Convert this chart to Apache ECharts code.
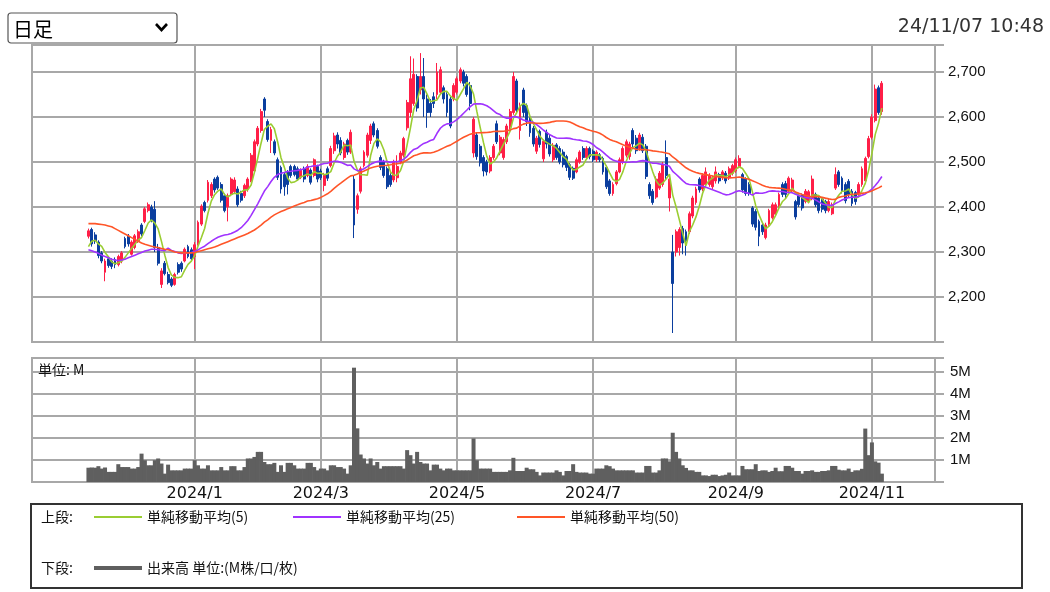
<!DOCTYPE html>
<html><head><meta charset="utf-8">
<script src="https://cdn.jsdelivr.net/npm/echarts@6/dist/echarts.min.js"></script>
<style>html,body{margin:0;padding:0;background:#fff;}#c{width:1050px;height:592px;}</style>
</head><body><div id="c"></div>
<script>
// trading days per month shown on the axis
const monthDays = {
 '2023/11':[15,16,17,20,21,22,24,27,28,29,30],
 '2023/12':[1,4,5,6,7,8,11,12,13,14,15,18,19,20,21,22,25,26,27,28,29],
 '2024/1':[4,5,9,10,11,12,15,16,17,18,19,22,23,24,25,26,29,30,31],
 '2024/2':[1,2,5,6,7,8,9,13,14,15,16,19,20,21,22,26,27,28,29],
 '2024/3':[1,4,5,6,7,8,11,12,13,14,15,18,19,21,22,25,26,27,28,29],
 '2024/4':[1,2,3,4,5,8,9,10,11,12,15,16,17,18,19,22,23,24,25,26,30],
 '2024/5':[1,2,7,8,9,10,13,14,15,16,17,20,21,22,23,24,27,28,29,30,31],
 '2024/6':[3,4,5,6,7,10,11,12,13,14,17,18,19,20,21,24,25,26,27,28],
 '2024/7':[1,2,3,4,5,8,9,10,11,12,16,17,18,19,22,23,24,25,26,29,30,31],
 '2024/8':[1,2,5,6,7,8,9,13,14,15,16,19,20,21,22,23,26,27,28,29,30],
 '2024/9':[2,3,4,5,6,9,10,11,12,13,17,18,19,20,24,25,26,27,30],
 '2024/10':[1,2,3,4,7,8,9,10,11,15,16,17,18,21,22,23,24,25,28,29,30,31],
 '2024/11':[1,5,6,7]
};
const labelMonths = ['2024/1','2024/3','2024/5','2024/7','2024/9','2024/11'];
const priceTicks = [2200,2300,2400,2500,2600,2700];
const volumeTicks = [1,2,3,4,5];

// [open, close, low, high]
const ohlc = [
[2335,2347,2330,2352],[2350,2318,2312,2354],[2338,2325,2318,2344],[2322,2292,2286,2326],[2298,2280,2275,2302],
[2255,2280,2235,2285],[2285,2270,2265,2290],[2280,2268,2262,2286],[2283,2272,2264,2288],[2272,2290,2268,2294],
[2280,2298,2275,2302],[2330,2312,2308,2334],[2335,2318,2312,2340],[2295,2322,2292,2326],[2310,2336,2306,2340],
[2325,2345,2320,2350],[2360,2340,2335,2364],[2368,2396,2364,2400],[2392,2405,2388,2410],[2400,2370,2366,2405],
[2395,2310,2300,2413],[2310,2275,2270,2318],[2228,2258,2220,2264],[2275,2252,2248,2280],[2250,2232,2228,2256],
[2240,2226,2222,2244],[2228,2250,2225,2254],[2272,2255,2250,2277],[2275,2262,2256,2279],[2280,2306,2277,2310],
[2312,2290,2286,2316],[2305,2285,2280,2310],[2290,2316,2262,2322],[2318,2366,2314,2370],[2362,2402,2358,2406],
[2410,2392,2388,2414],[2415,2455,2410,2460],[2425,2450,2420,2455],[2462,2438,2432,2466],[2466,2442,2438,2470],
[2450,2415,2410,2455],[2425,2392,2388,2430],[2400,2425,2368,2430],[2428,2462,2424,2466],[2434,2460,2430,2466],
[2440,2405,2400,2446],[2430,2415,2410,2436],[2425,2448,2420,2452],[2440,2462,2434,2466],[2458,2515,2455,2520],
[2480,2545,2476,2550],[2540,2575,2535,2580],[2570,2612,2565,2618],[2640,2615,2600,2644],[2590,2550,2545,2595],
[2548,2572,2520,2578],[2545,2520,2515,2550],[2505,2466,2460,2510],[2488,2440,2430,2492],[2472,2445,2425,2476],
[2478,2450,2428,2482],[2490,2470,2465,2494],[2490,2472,2468,2494],[2485,2462,2458,2490],[2466,2482,2462,2486],
[2485,2462,2455,2490],[2470,2490,2466,2495],[2482,2455,2450,2486],[2470,2505,2466,2508],[2490,2462,2455,2494],
[2480,2465,2460,2485],[2448,2472,2435,2476],[2485,2464,2458,2490],[2492,2530,2488,2536],[2525,2558,2518,2565],
[2560,2540,2530,2566],[2548,2520,2515,2555],[2510,2540,2505,2545],[2548,2522,2516,2552],[2522,2566,2518,2572],
[2462,2360,2331,2470],[2395,2425,2385,2430],[2435,2485,2430,2490],[2492,2522,2488,2526],[2515,2560,2510,2565],
[2548,2580,2540,2585],[2585,2560,2555,2590],[2570,2535,2530,2575],[2510,2488,2482,2515],[2500,2470,2465,2505],
[2485,2445,2440,2490],[2470,2450,2445,2475],[2460,2500,2455,2505],[2465,2490,2455,2515],[2500,2520,2495,2525],
[2515,2552,2510,2556],[2576,2632,2570,2638],[2610,2685,2600,2735],[2630,2695,2625,2730],[2690,2620,2612,2695],
[2660,2690,2650,2742],[2690,2640,2600,2731],[2640,2610,2576,2650],[2630,2610,2600,2640],[2645,2630,2620,2655],
[2650,2700,2640,2720],[2655,2705,2650,2712],[2665,2640,2630,2670],[2650,2610,2600,2655],[2640,2580,2575,2645],
[2640,2670,2635,2675],[2655,2685,2650,2690],[2680,2705,2675,2710],[2700,2675,2668,2705],[2690,2650,2645,2695],
[2670,2630,2615,2678],[2520,2595,2510,2600],[2560,2512,2505,2565],[2535,2498,2490,2540],[2510,2480,2468,2515],
[2500,2478,2470,2505],[2480,2510,2475,2515],[2510,2535,2505,2540],[2585,2545,2540,2592],[2520,2555,2515,2560],
[2510,2550,2505,2555],[2545,2580,2540,2585],[2578,2612,2572,2618],[2610,2690,2605,2700],[2680,2615,2610,2685],
[2570,2625,2550,2632],[2660,2610,2600,2665],[2625,2590,2580,2630],[2600,2565,2556,2605],[2575,2540,2534,2580],
[2524,2553,2518,2558],[2568,2539,2532,2572],[2507,2546,2500,2550],[2566,2540,2530,2572],[2553,2518,2512,2560],
[2505,2537,2500,2542],[2538,2510,2505,2542],[2530,2500,2495,2535],[2522,2494,2488,2528],[2512,2488,2480,2516],
[2494,2466,2460,2498],[2486,2464,2460,2490],[2478,2505,2475,2510],[2500,2522,2496,2526],[2530,2510,2505,2535],
[2510,2530,2505,2535],[2530,2512,2506,2534],[2524,2505,2500,2528],[2505,2522,2500,2526],[2516,2505,2500,2520],
[2508,2478,2472,2512],[2488,2445,2440,2492],[2458,2430,2425,2462],[2430,2450,2425,2455],[2452,2478,2448,2482],
[2478,2505,2475,2510],[2500,2530,2495,2535],[2515,2545,2510,2550],[2512,2540,2505,2545],[2570,2540,2532,2575],
[2553,2525,2518,2560],[2530,2560,2525,2565],[2555,2525,2520,2562],[2535,2468,2462,2540],[2450,2425,2418,2455],
[2435,2410,2405,2440],[2422,2462,2418,2468],[2442,2475,2438,2480],[2450,2495,2445,2500],[2510,2470,2462,2548],
[2420,2462,2390,2466],[2300,2230,2120,2338],[2300,2345,2290,2350],[2310,2350,2292,2355],[2352,2320,2295,2358],
[2345,2325,2292,2350],[2345,2385,2340,2390],[2380,2420,2375,2425],[2410,2440,2405,2445],[2462,2438,2432,2466],
[2440,2470,2435,2475],[2450,2478,2445,2488],[2450,2470,2445,2475],[2445,2465,2440,2470],[2458,2478,2452,2490],
[2472,2458,2452,2476],[2465,2478,2460,2482],[2475,2458,2452,2480],[2465,2485,2460,2490],[2475,2492,2470,2496],
[2480,2505,2476,2510],[2490,2508,2486,2515],[2472,2438,2432,2476],[2462,2430,2425,2466],[2450,2430,2425,2455],
[2398,2362,2356,2402],[2390,2355,2348,2395],[2368,2335,2313,2372],[2360,2345,2338,2365],[2332,2360,2328,2365],
[2362,2392,2358,2396],[2376,2405,2372,2410],[2384,2405,2380,2410],[2400,2428,2396,2432],[2450,2428,2422,2455],
[2452,2428,2420,2458],[2435,2464,2430,2468],[2438,2460,2432,2465],[2412,2378,2372,2416],[2425,2405,2400,2430],
[2426,2398,2392,2430],[2412,2435,2408,2440],[2412,2434,2408,2438],[2420,2462,2415,2470],[2428,2405,2400,2432],
[2420,2392,2386,2425],[2418,2395,2388,2422],[2412,2392,2386,2416],[2392,2412,2388,2418],[2385,2405,2382,2410],
[2442,2472,2438,2488],[2478,2450,2445,2482],[2464,2436,2430,2468],[2450,2414,2408,2455],[2457,2428,2422,2462],
[2435,2408,2402,2440],[2432,2412,2405,2436],[2428,2450,2424,2455],[2450,2485,2445,2490],[2458,2508,2455,2512],
[2512,2552,2508,2558],[2555,2600,2550,2606],[2592,2662,2588,2672],[2665,2610,2605,2670],[2612,2675,2605,2680]
];

// volume, millions
const volume = [
0.65,0.66,0.65,0.72,0.61,0.66,0.46,0.46,0.46,0.81,
0.68,0.68,0.68,0.61,0.61,0.68,1.29,0.99,0.76,0.76,
0.99,1.07,0.84,0.38,0.79,0.53,0.53,0.53,0.53,0.61,
0.61,0.61,0.99,0.76,0.61,0.61,0.76,0.53,0.53,0.53,
0.68,0.53,0.53,0.72,0.72,0.53,0.53,0.68,1.07,1.07,
1.14,1.37,1.37,0.91,0.81,0.81,0.87,0.46,0.76,0.46,
0.87,0.87,0.76,0.61,0.61,0.61,0.87,0.87,0.68,0.53,
0.61,0.61,0.53,0.76,0.76,0.68,0.68,0.61,0.38,0.76,
5.2,2.44,1.25,1.07,0.84,1.07,0.76,0.91,0.61,0.72,
0.72,0.72,0.72,0.72,0.72,0.61,1.45,1.22,0.84,1.37,
0.91,0.84,0.84,0.53,0.79,0.79,0.61,0.53,0.61,0.61,
0.53,0.53,0.53,0.53,0.53,0.53,1.98,0.99,0.61,0.61,
0.61,0.61,0.46,0.46,0.46,0.46,0.46,0.53,1.1,0.5,
0.5,0.5,0.65,0.58,0.58,0.46,0.30,0.43,0.43,0.43,
0.43,0.53,0.46,0.30,0.5,0.5,0.81,0.46,0.43,0.43,
0.43,0.38,0.38,0.61,0.61,0.61,0.76,0.72,0.61,0.53,
0.53,0.53,0.53,0.53,0.53,0.43,0.43,0.43,0.73,0.73,
0.43,0.43,0.53,1.07,1.07,0.94,2.24,1.37,1.07,0.76,
0.64,0.53,0.53,0.46,0.46,0.30,0.30,0.27,0.33,0.33,
0.27,0.30,0.33,0.43,0.30,0.30,0.30,0.73,0.58,0.58,
0.58,0.81,0.5,0.53,0.53,0.46,0.5,0.65,0.49,0.49,
0.73,0.73,0.65,0.5,0.5,0.38,0.5,0.5,0.53,0.46,
0.46,0.5,0.5,0.53,0.73,0.73,0.56,0.53,0.53,0.61,
0.46,0.53,0.53,0.6,2.43,1.22,1.8,0.94,0.88,0.38
];

// moving-average values for days whose window starts before the first shown day
const ma5Lead = [2312,2324,2326,2318];
const ma25Lead = [2305,2303,2300,2297,2293,2290,2287,2284,2282,2281,2282,2284,2287,2290,2293,2296,2299,2302,2304,2306,2306,2305,2304,2303];
const ma50Lead = [2363,2363,2363,2362,2361,2360,2358,2356,2352,2348,2344,2340,2336,2332,2328,2324,2320,2317,2315,2313,
2311,2310,2308,2306,2305,2303,2300,2299,2298,2298,2298,2298,2299,2301,2303,2305,2307,2309,2311,2314,
2317,2320,2323,2326,2329,2332,2335,2338,2341];

const PAD_BEFORE = 17, PAD_AFTER = 16;

const cats = [], monthStart = {};
for (let k = 0; k < PAD_BEFORE; k++) cats.push('pre' + k);
Object.keys(monthDays).forEach(m => {
  monthDays[m].forEach((d, j) => { if (j === 0) monthStart[cats.length] = m; cats.push(m + '/' + d); });
});
for (let k = 0; k < PAD_AFTER; k++) cats.push('post' + k);

const closes = ohlc.map(d => d[1]);
function movingAverage(n, lead) {
  return closes.map((c, i) => {
    if (i < n - 1) return lead[i];
    let s = 0; for (let k = i - n + 1; k <= i; k++) s += closes[k];
    return +(s / n).toFixed(1);
  });
}
const pad = v => Array(PAD_BEFORE).fill(v);
const candleData = pad(['-','-','-','-']).concat(ohlc);
const volData = pad('-').concat(volume);
const ma5 = pad('-').concat(movingAverage(5, ma5Lead));
const ma25 = pad('-').concat(movingAverage(25, ma25Lead));
const ma50 = pad('-').concat(movingAverage(50, ma50Lead));

const isMonthLine = idx => labelMonths.indexOf(monthStart[idx]) >= 0;
const GRID = '#a8a8a8';
const JP = '"Noto Sans CJK JP"';

const xBase = {
  type: 'category', data: cats, boundaryGap: false,
  axisLine: {show: false}, axisTick: {show: false},
  splitLine: {show: true, interval: (i) => isMonthLine(i), lineStyle: {color: GRID, width: 2}}
};

const chart = echarts.init(document.getElementById('c'));
chart.setOption({
  animation: false,
  backgroundColor: '#fff',
  grid: [
    {left: 32, right: 115, top: 45, height: 297, show: true, borderColor: GRID, borderWidth: 2, backgroundColor: 'transparent'},
    {left: 32, right: 115, top: 358, height: 124, show: true, borderColor: GRID, borderWidth: 2, backgroundColor: 'transparent'}
  ],
  xAxis: [
    Object.assign({}, xBase, {gridIndex: 0, axisLabel: {show: false}}),
    Object.assign({}, xBase, {gridIndex: 1, axisLabel: {
      show: true, interval: (i) => isMonthLine(i), formatter: (v, i) => monthStart[i] || '',
      fontFamily: '"DejaVu Sans"', fontSize: 16, color: '#111', margin: 4
    }})
  ],
  yAxis: [
    {type: 'value', gridIndex: 0, position: 'right', min: 2100, max: 2760, interval: 100,
     axisLine: {show: false},
     axisTick: {show: true, length: 9, lineStyle: {color: GRID, width: 2}},
     splitLine: {show: true, lineStyle: {color: GRID, width: 2}},
     axisLabel: {margin: 13, fontFamily: '"Liberation Sans"', fontSize: 15, color: '#111',
       formatter: v => priceTicks.indexOf(v) >= 0 ? v.toLocaleString('en-US') : ''}},
    {type: 'value', gridIndex: 1, position: 'right', min: 0, max: 5.64, interval: 1,
     axisLine: {show: false},
     axisTick: {show: true, length: 9, lineStyle: {color: GRID, width: 2}},
     splitLine: {show: true, lineStyle: {color: GRID, width: 2}},
     axisLabel: {margin: 15, fontFamily: '"Liberation Sans"', fontSize: 15, color: '#111',
       formatter: v => volumeTicks.indexOf(v) >= 0 ? v + 'M' : ''}}
  ],
  legend: [
    {data: ['単純移動平均(5)'], left: 94, top: 510},
    {data: ['単純移動平均(25)'], left: 293, top: 510},
    {data: ['単純移動平均(50)'], left: 517, top: 510},
    {data: ['出来高 単位:(M株/口/枚)'], left: 94, top: 561, itemHeight: 4}
  ].map(l => Object.assign({icon: 'rect', itemWidth: 48, itemHeight: 2, padding: 0, selectedMode: false,
      textStyle: {fontFamily: JP, fontSize: 14, color: '#111', padding: [0,0,0,0]}}, l)),
  series: [
    {type: 'candlestick', name: 'price', xAxisIndex: 0, yAxisIndex: 0, data: candleData, barWidth: 2.4,
     itemStyle: {color: '#ff1f47', color0: '#0b3e9e', borderColor: '#ff1f47', borderColor0: '#0b3e9e', borderWidth: 1}},
    {type: 'line', name: '単純移動平均(5)', xAxisIndex: 0, yAxisIndex: 0, data: ma5, showSymbol: false, symbol: 'none',
     color: '#9acd32', lineStyle: {width: 1.6, color: '#9acd32'}, z: 5},
    {type: 'line', name: '単純移動平均(25)', xAxisIndex: 0, yAxisIndex: 0, data: ma25, showSymbol: false, symbol: 'none',
     color: '#a033ff', lineStyle: {width: 1.6, color: '#a033ff'}, z: 5},
    {type: 'line', name: '単純移動平均(50)', xAxisIndex: 0, yAxisIndex: 0, data: ma50, showSymbol: false, symbol: 'none',
     color: '#ff5528', lineStyle: {width: 1.6, color: '#ff5528'}, z: 5},
    {type: 'bar', name: '出来高 単位:(M株/口/枚)', xAxisIndex: 1, yAxisIndex: 1, data: volData, barWidth: 4,
     color: '#5f5f5f', itemStyle: {color: '#5f5f5f'}}
  ],
  graphic: [
    {type: 'rect', shape: {x: 8, y: 13, width: 169, height: 30, r: 3}, style: {fill: '#fff', stroke: '#555', lineWidth: 1.2}},
    {type: 'text', style: {text: '日足', x: 13, y: 29, font: '20px ' + JP, fill: '#000', verticalAlign: 'middle'}},
    {type: 'polyline', shape: {points: [[156,24],[161.5,30],[167,24]]}, style: {stroke: '#000', lineWidth: 2.6, fill: null}},
    {type: 'text', style: {text: '24/11/07 10:48', x: 1044, y: 27, font: '19px "DejaVu Sans"', fill: '#333', align: 'right', verticalAlign: 'middle'}},
    {type: 'text', z: 10, style: {text: '単位: M', x: 38, y: 370, font: '14px ' + JP, fill: '#111', verticalAlign: 'middle'}},
    {type: 'rect', shape: {x: 31, y: 504, width: 991, height: 84}, style: {fill: null, stroke: '#333', lineWidth: 2}},
    {type: 'text', style: {text: '上段:', x: 41, y: 517, font: '14px ' + JP, fill: '#111', verticalAlign: 'middle'}},
    {type: 'text', style: {text: '下段:', x: 41, y: 568, font: '14px ' + JP, fill: '#111', verticalAlign: 'middle'}}
  ]
});
</script></body></html>
